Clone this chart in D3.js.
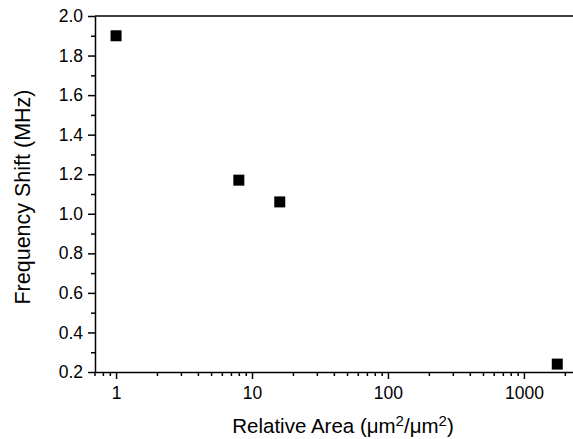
<!DOCTYPE html>
<html>
<head>
<meta charset="utf-8">
<script src="https://cdn.jsdelivr.net/npm/d3@7"></script>
<style>
  html, body { margin: 0; padding: 0; background: #fff; }
  svg { display: block; }
  text { font-family: "Liberation Sans", Arial, Helvetica, sans-serif; fill: #000; }
</style>
</head>
<body>
<svg id="chart" width="573" height="439"></svg>
<script>
// ---- data ----
const areas = [1, 8, 16, 1760];
const shifts = [1.90, 1.17, 1.06, 0.24];
const xMajorTicks = [1, 10, 100, 1000];
const xTickLabels = ["1", "10", "100", "1000"];
const xMinorTicks = [0.8, 0.9, 2, 3, 4, 5, 6, 7, 8, 9, 20, 30, 40, 50, 60, 70, 80, 90,
                     200, 300, 400, 500, 600, 700, 800, 900, 2000];
const yMajorTicks = [0.2, 0.4, 0.6, 0.8, 1.0, 1.2, 1.4, 1.6, 1.8, 2.0];
const yMinorTicks = [0.3, 0.5, 0.7, 0.9, 1.1, 1.3, 1.5, 1.7, 1.9];
const yTitle = "Frequency Shift (MHz)";

// ---- layout ----
const svg = d3.select("#chart");
const mLeft = 95, mRight = 578, mTop = 16, mBottom = 372;

const x = d3.scaleLog().domain([0.7, 2500]).range([mLeft, mRight]);
const y = d3.scaleLinear().domain([0.2, 2.0]).range([mBottom, mTop]);

const axisStroke = 1.5;
const tickFont = 17.5;
const titleFont = 20.5;

// minor x ticks
svg.append("g")
  .attr("transform", `translate(0,${mBottom})`)
  .call(d3.axisBottom(x).tickValues(xMinorTicks).tickSize(4).tickSizeOuter(0).tickFormat(""))
  .call(g => g.select(".domain").remove())
  .call(g => g.selectAll("line").attr("stroke-width", axisStroke));

// major x axis
const xAxisG = svg.append("g")
  .attr("transform", `translate(0,${mBottom})`)
  .call(d3.axisBottom(x).tickValues(xMajorTicks).tickSize(7).tickSizeOuter(0).tickPadding(8)
        .tickFormat((d, i) => xTickLabels[i]));
xAxisG.select(".domain").attr("stroke-width", axisStroke);
xAxisG.selectAll("line").attr("stroke-width", axisStroke);
xAxisG.selectAll("text").attr("font-size", tickFont).style("font-family", "'Liberation Sans', Arial, sans-serif");

// minor y ticks
svg.append("g")
  .attr("transform", `translate(${mLeft},0)`)
  .call(d3.axisLeft(y).tickValues(yMinorTicks).tickSize(4).tickSizeOuter(0).tickFormat(""))
  .call(g => g.select(".domain").remove())
  .call(g => g.selectAll("line").attr("stroke-width", axisStroke));

// major y axis
const yAxisG = svg.append("g")
  .attr("transform", `translate(${mLeft},0)`)
  .call(d3.axisLeft(y).tickValues(yMajorTicks).tickSize(7).tickSizeOuter(0).tickPadding(5)
        .tickFormat(d3.format(".1f")));
yAxisG.select(".domain").attr("stroke-width", axisStroke);
yAxisG.selectAll("line").attr("stroke-width", axisStroke);
yAxisG.selectAll("text").attr("font-size", tickFont).style("font-family", "'Liberation Sans', Arial, sans-serif");

// extend left axis slightly below bottom axis (0.7 tick position)
svg.append("line")
  .attr("x1", x(0.7)).attr("x2", x(0.7))
  .attr("y1", mBottom).attr("y2", mBottom + 4)
  .attr("stroke", "#000").attr("stroke-width", axisStroke);

// top frame line
svg.append("line")
  .attr("x1", mLeft).attr("x2", mRight)
  .attr("y1", y(2.0)).attr("y2", y(2.0))
  .attr("stroke", "#000").attr("stroke-width", axisStroke);

// points
const s = 11;
svg.append("g").selectAll("rect")
  .data(areas.map((a, i) => ({a, v: shifts[i]})))
  .join("rect")
  .attr("x", d => x(d.a) - s / 2)
  .attr("y", d => y(d.v) - s / 2)
  .attr("width", s).attr("height", s)
  .attr("fill", "#000");

// axis titles
const xt = svg.append("text")
  .attr("x", 343).attr("y", 433)
  .attr("text-anchor", "middle")
  .attr("font-size", titleFont);
xt.append("tspan").text("Relative Area (μm");
xt.append("tspan").attr("font-size", 15).attr("dy", -7).text("2");
xt.append("tspan").attr("dy", 7).text("/μm");
xt.append("tspan").attr("font-size", 15).attr("dy", -7).text("2");
xt.append("tspan").attr("dy", 7).text(")");

svg.append("text")
  .attr("transform", `translate(30,197) rotate(-90)`)
  .attr("text-anchor", "middle")
  .attr("font-size", 21.5)
  .text(yTitle);
</script>
</body>
</html>
